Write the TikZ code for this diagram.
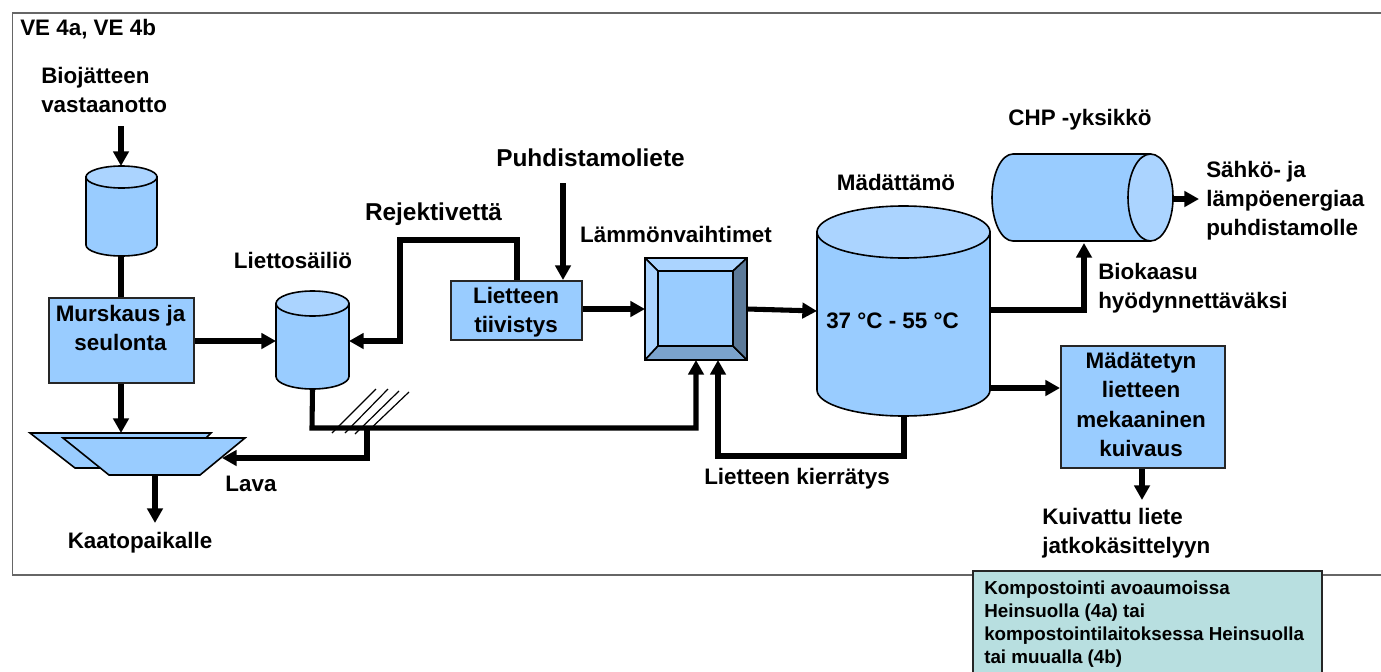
\documentclass[tikz,border=0pt]{standalone}
\usepackage{fontspec}
\setmainfont{Liberation Sans}
\usetikzlibrary{arrows.meta}
\definecolor{body}{HTML}{99CCFF}
\definecolor{topc}{HTML}{ABD4FF}
\definecolor{bev}{HTML}{7BA3CC}
\definecolor{bevd}{HTML}{5C7A99}
\definecolor{tealbox}{HTML}{B8DFE0}
\tikzset{
  x=0.75pt,y=-0.75pt,
  line join=miter,
  flow/.style={draw=black,line width=3.8pt,-{Triangle[length=11pt,width=11.5pt]}},
  plain/.style={draw=black,line width=3.8pt},
  hatch/.style={draw=black,line width=0.9pt},
  outl/.style={draw=black,line width=1.2pt,fill=body},
  outt/.style={draw=black,line width=1.2pt,fill=topc},
  boxs/.style={draw=black!85,line width=1.2pt,fill=body,inner sep=0pt,text=black},
  ghost/.style={inner sep=0pt,outer sep=0pt},
  lab/.style={font=\bfseries\fontsize{16.8}{21.75}\selectfont,align=center,inner sep=0pt,text=black},
  labbig/.style={lab,font=\bfseries\fontsize{18.3}{22}\selectfont},
}
\newcommand{\rectnode}[6][ghost]{%
  \node[#1,minimum width={((#5)-(#3))*0.75pt},minimum height={((#6)-(#4))*0.75pt}] (#2) at ({((#3)+(#5))/2},{((#4)+(#6))/2}) {};}
\newcommand{\cyl}[6]{% name x1 x2 top-centre-y bottom-side-y ry
  \path[outl] (#2,#4) -- (#2,#5) arc[start angle=180,end angle=0,x radius={(#3-#2)/2},y radius=#6] -- (#3,#4) -- cycle;
  \path[outt] ({(#2+#3)/2},#4) ellipse[x radius={(#3-#2)/2},y radius=#6];
  \rectnode{#1}{#2}{#4-#6}{#3}{#5+#6}}
\begin{document}
\begin{tikzpicture}
\useasboundingbox (0,0) rectangle (1381,671);
\clip (0,0) rectangle (1381,671);
% frame
\draw[black!60,line width=1pt] (1382,13) -- (12.5,13) -- (12.5,575) -- (1382,575);
\node[lab,anchor=base west] (ve) at (20,35) {VE 4a, VE 4b};

% tanks
\cyl{tankA}{86}{157}{177}{245}{11}
\cyl{tankB}{276}{349}{303.5}{376.5}{12.5}
\cyl{dig}{817}{990}{232}{390}{26}

% boxes
\node[boxs,minimum width={145*0.75pt},minimum height={85*0.75pt},anchor=north west] (mur) at (48,297) {};
\node[lab] (murt) at (120.5,328) {Murskaus ja\\seulonta};
\node[boxs,minimum width={131*0.75pt},minimum height={59*0.75pt},anchor=north west] (tii) at (450,280) {};
\node[lab] (tiit) at (516,312) {Lietteen\\tiivistys};
\node[boxs,minimum width={164*0.75pt},minimum height={122*0.75pt},anchor=north west] (kui) at (1060,345) {};
\node[lab,font=\bfseries\fontsize{16.8}{22}\selectfont] (kuit) at (1141,404.5) {Mädätetyn\\lietteen\\mekaaninen\\kuivaus};

% lava
\path[outl] (30,433) -- (211,433) -- (205,439) -- (130,468) -- (75,468) -- cycle;
\path[outl] (63,438) -- (245,438) -- (200,475) -- (109,475) -- cycle;
\rectnode{lava}{63}{433}{245}{475}
\coordinate (lavaE) at (222,458);
\coordinate (lavaS) at (155,475);

% heat exchanger
\path[outl] (645,258) rectangle (747,360);
\path[outt,line join=bevel] (645,258) -- (747,258) -- (733,271) -- (658,271) -- cycle;
\path[outt,line join=bevel] (645,258) -- (658,271) -- (658,346) -- (645,360) -- cycle;
\path[outl,fill=bev,line join=bevel] (645,360) -- (658,346) -- (733,346) -- (747,360) -- cycle;
\path[outl,fill=bevd,line join=bevel] (747,258) -- (733,271) -- (733,346) -- (747,360) -- cycle;
\path[outl] (658,271) rectangle (733,346);
\rectnode{hx}{645}{258}{747}{360}

% CHP
\path[outl] (1013,154) -- (1150.5,154) -- (1150.5,241) -- (1013,241) arc[start angle=90,end angle=270,x radius=21,y radius=43.5] -- cycle;
\path[outt] (1150.5,197.5) ellipse[x radius=22.5,y radius=43.5];
\rectnode{chp}{992}{154}{1173}{241}

% free ends
\coordinate (inA) at (121,126);
\coordinate (inP) at (563,183);
\coordinate (outP) at (1199,199);
\coordinate (outK) at (1142,500);
\coordinate (outL) at (155,523);
\coordinate (rejU) at (517,240);
\coordinate (rejL) at (400,240);
\coordinate (lowL) at (312,428);
\coordinate (lowR) at (696,428);
\coordinate (tap) at (367,428);
\coordinate (tapD) at (367,458);
\coordinate (recD) at (904,456);
\coordinate (recL) at (718,456);
\coordinate (bioC) at (1084,310);

% connectors
\draw[flow] (inA) -- (tankA.north -| inA);
\draw[plain] (tankA.south -| inA) -- (mur.north -| inA);
\draw[flow] (mur.east |- 0,341) -- (tankB.west |- 0,341);
\draw[flow] (mur.south -| inA) -- (121,433);
\draw[flow] (lavaS) -- (outL);
\draw[flow] (tankB.south) -- (lowL) -- (lowR) -- (lowR |- hx.south);
\draw[flow] (tap) -- (tapD) -- (lavaE);
\draw[flow] (tii.north -| rejU) -- (rejU) -- (rejL) -- (400,341) -- (tankB.east |- 0,341);
\draw[flow] (inP) -- (inP |- tii.north);
\draw[flow] (tii.east |- 0,309) -- (hx.west |- 0,309);
\draw[flow] (hx.east |- 0,309) -- (dig.west |- 0,311);
\draw[flow] (dig.east |- bioC) -- (bioC) -- (1084,243);
\draw[flow] (dig.east |- 0,388) -- (kui.west |- 0,388);
\draw[flow] (dig.south -| recD) -- (recD) -- (recL) -- (recL |- hx.south);
\draw[flow] (kui.south -| outK) -- (outK);
\draw[flow] (chp.east |- outP) -- (outP);

% hatch
\draw[hatch] (332,433) -- (376,389);
\draw[hatch] (345,433) -- (388,389);
\draw[hatch] (355,434) -- (399,391);
\draw[hatch] (365,434) -- (409,392);

% labels
\node[lab,align=left,anchor=west] (l1) at (41,90) {Biojätteen\\vastaanotto};
\node[lab] (l2) at (293,260) {Liettosäiliö};
\node[labbig] (l3) at (433.5,214) {Rejektivettä};
\node[labbig] (l4) at (590.5,158) {Puhdistamoliete};
\node[lab] (l5) at (676,234) {Lämmönvaihtimet};
\node[lab] (l6) at (896,182) {Mädättämö};
\node[lab] (l7) at (1080,120) {CHP -yksikkö};
\node[lab,align=left,anchor=west] (l8) at (1206,201) {Sähkö- ja\\lämpöenergiaa\\puhdistamolle};
\node[lab,align=left,anchor=west] (l9) at (1098,288) {Biokaasu\\hyödynnettäväksi};
\node[lab] (l10) at (892.5,321) {37 °C - 55 °C};
\node[lab] (l11) at (797,479) {Lietteen kierrätys};
\node[lab,align=left,anchor=west] (l12) at (1042,533.5) {Kuivattu liete\\jatkokäsittelyyn};
\node[lab] (l13) at (251,484) {Lava};
\node[lab] (l14) at (140,543) {Kaatopaikalle};

% note box
\draw[black!85,line width=1pt,fill=tealbox] (973,571) rectangle (1322,690);
\node[lab,align=left,anchor=north west,font=\bfseries\fontsize{14.1}{17.1}\selectfont] (note) at (984,581) {Kompostointi avoaumoissa\\Heinsuolla (4a) tai\\kompostointilaitoksessa Heinsuolla\\tai muualla (4b)};
\end{tikzpicture}
\end{document}
